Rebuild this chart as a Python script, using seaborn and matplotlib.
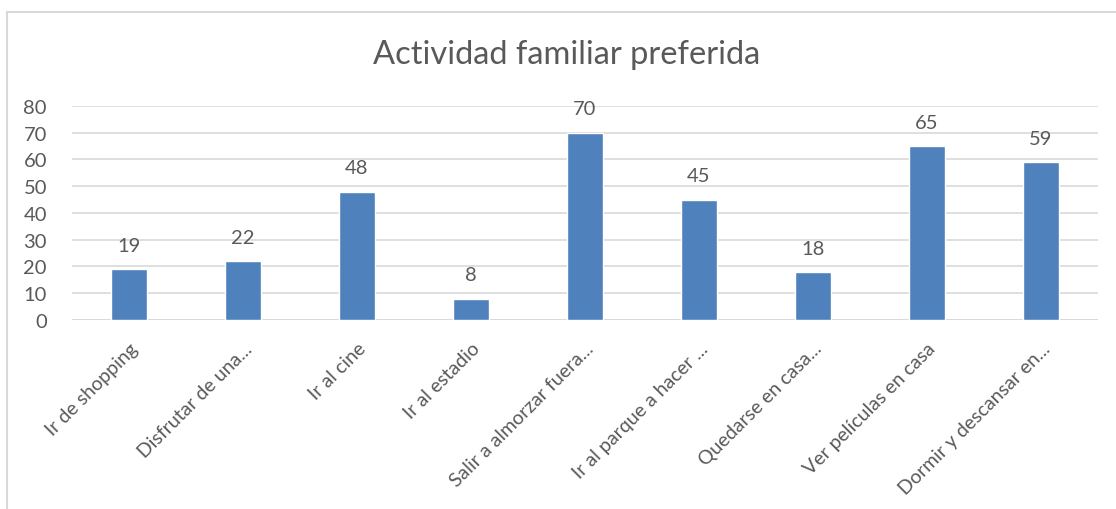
import matplotlib
matplotlib.use("Agg")
import matplotlib.pyplot as plt
import seaborn as sns
import pandas as pd
from matplotlib.lines import Line2D

# Chart data
actividades = [
    "Ir de shopping",
    "Disfrutar de una...",
    "Ir al cine",
    "Ir al estadio",
    "Salir a almorzar fuera...",
    "Ir al parque a hacer ...",
    "Quedarse en casa...",
    "Ver películas en casa",
    "Dormir y descansar en...",
]
votos = [19, 22, 48, 8, 70, 45, 18, 65, 59]
y_ticks = [0, 10, 20, 30, 40, 50, 60, 70, 80]

df = pd.DataFrame({"actividad": actividades, "votos": votos})

sns.set_theme(style="white")
plt.rcParams["font.family"] = ["Lato", "DejaVu Sans"]

text_gray = "#595959"
bar_blue = "#4F81BD"
grid_gray = "#D9D9D9"

fig = plt.figure(figsize=(11.16, 5.10), dpi=100)
ax = fig.add_axes([0.0645, 0.3706, 0.9194, 0.4196])

sns.barplot(data=df, x="actividad", y="votos", color=bar_blue,
            width=0.31, saturation=1, ax=ax, zorder=3)

ax.set_ylim(0, 80)
ax.set_yticks(y_ticks)
ax.yaxis.grid(True, color=grid_gray, linewidth=1.2, zorder=0)
ax.set_axisbelow(True)
for s in ax.spines.values():
    s.set_visible(False)
ax.axhline(0, color=grid_gray, linewidth=1.2, zorder=1)

ax.tick_params(axis="y", labelsize=14.5, colors=text_gray, length=0, pad=18)
ax.tick_params(axis="x", labelsize=14, colors=text_gray, length=0, pad=14)
plt.setp(ax.get_xticklabels(), rotation=45, ha="right", rotation_mode="anchor")
for lbl in ax.get_xticklabels():
    lbl.set_x(lbl.get_position()[0])
ax.set_xlabel("")
ax.set_ylabel("")

ax.bar_label(ax.containers[0], labels=[str(v) for v in votos],
             padding=11, fontsize=14.5, color=text_gray)

fig.text(0.508, 0.892, "Actividad familiar preferida", ha="center", va="center",
         fontsize=23.5, color=text_gray)

# light frame like the Excel chart area
frame = "#D9D9D9"
fig.add_artist(Line2D([7 / 1116, 7 / 1116], [0, 1 - 13 / 510], color=frame,
                      linewidth=1.5, transform=fig.transFigure))
fig.add_artist(Line2D([7 / 1116, 1], [1 - 13 / 510, 1 - 13 / 510], color=frame,
                      linewidth=1.5, transform=fig.transFigure))

fig.savefig("out.png", dpi=100, facecolor="white")
